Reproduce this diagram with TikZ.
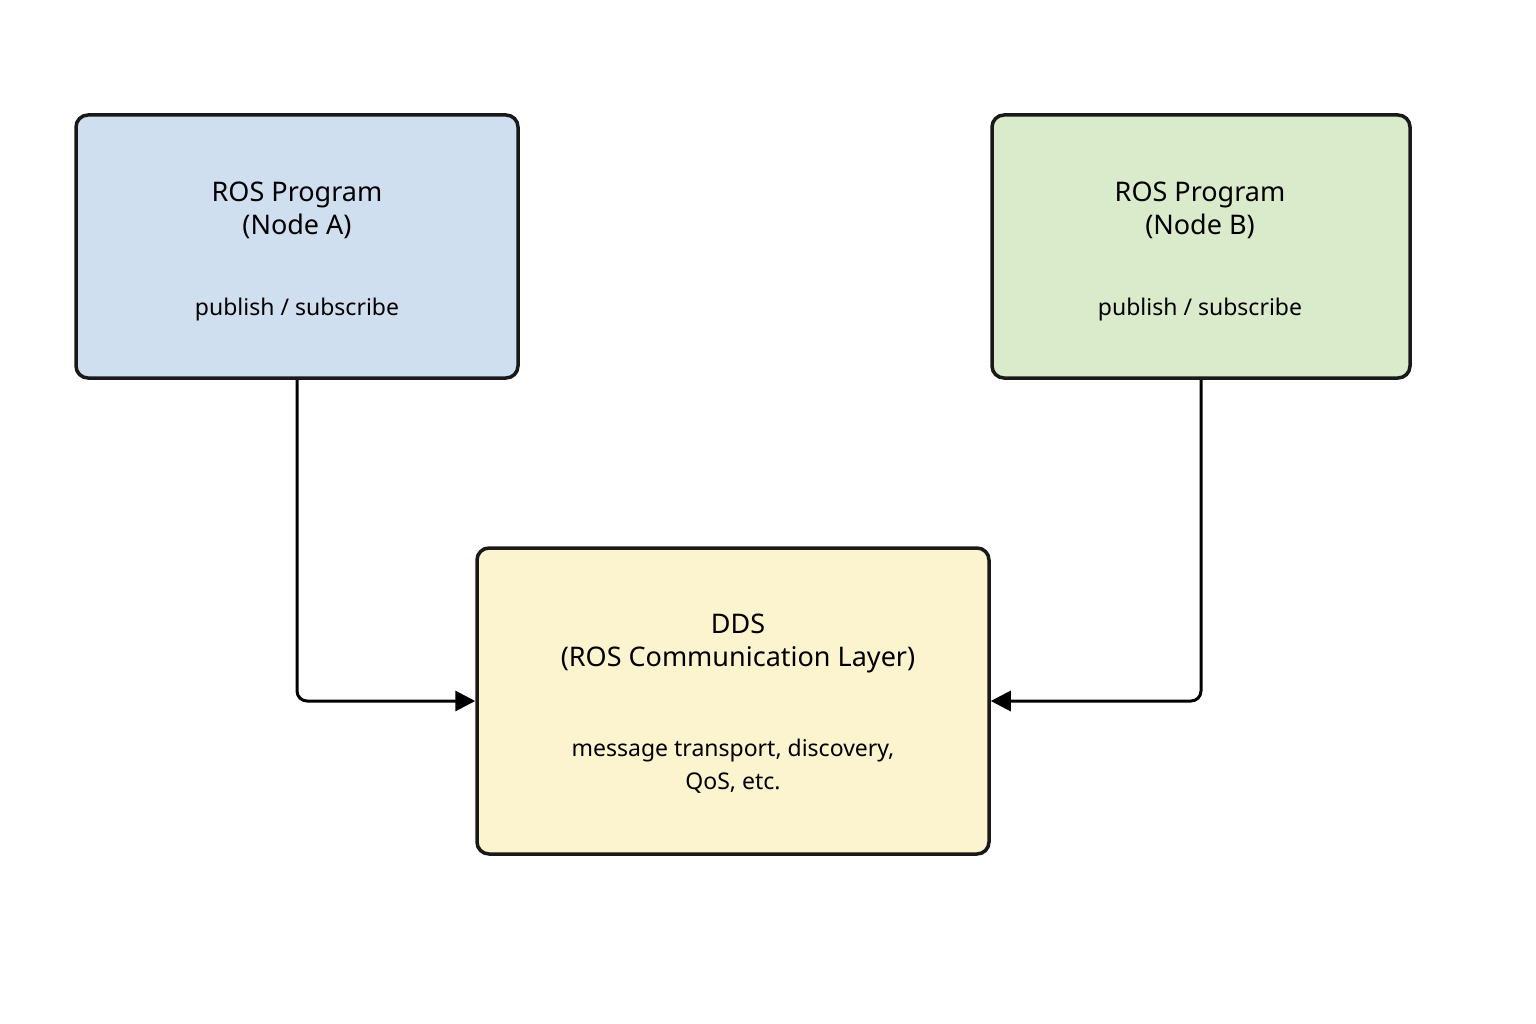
\documentclass[tikz,border=0pt]{standalone}
\usepackage{fontspec}
\setmainfont{Noto Sans}
\usetikzlibrary{arrows.meta,positioning}
\definecolor{boxA}{HTML}{CFDFF0}
\definecolor{boxB}{HTML}{D9EBCB}
\definecolor{boxD}{HTML}{FCF3CF}
\tikzset{
  box/.style={draw=black!90, line width=3.5pt, rounded corners=12pt, inner sep=0pt},
  title/.style={font=\fontsize{27}{33}\selectfont\bfseries, align=center},
  body/.style={font=\fontsize{23}{33}\selectfont, align=center},
  link/.style={line width=3pt, rounded corners=10pt, -{Triangle[length=20pt,width=20pt]}}
}
\begin{document}
\begin{tikzpicture}[x=1pt,y=-1pt]
  \useasboundingbox (0,0) rectangle (1536,1024);
  % BOXES
  \node[box, fill=boxA, minimum width=442pt, minimum height=263pt] (progA) at (297,246.5) {};
  \node[box, fill=boxB, minimum width=418pt, minimum height=263pt] (progB) at (1201,246.5) {};
  \node[box, fill=boxD, minimum width=512pt, minimum height=306pt] (dds) at (733,701) {};

  % TEXTS
  \node[title] (titleA) at (297,210) {ROS Program\\(Node A)};
  \node[body] (bodyA) at (297,310) {publish / subscribe};
  \node[title] (titleB) at (1200,210) {ROS Program\\(Node B)};
  \node[body] (bodyB) at (1200,310) {publish / subscribe};
  \node[title] (titleD) at (738,643) {DDS\\(ROS Communication Layer)};
  \node[body] (bodyD) at (733,766) {message transport, discovery,\\QoS, etc.};

  % CONNECTORS
  \draw[link] (progA.south) |- (dds.west);
  \draw[link] (progB.south) |- (dds.east);
\end{tikzpicture}
\end{document}
